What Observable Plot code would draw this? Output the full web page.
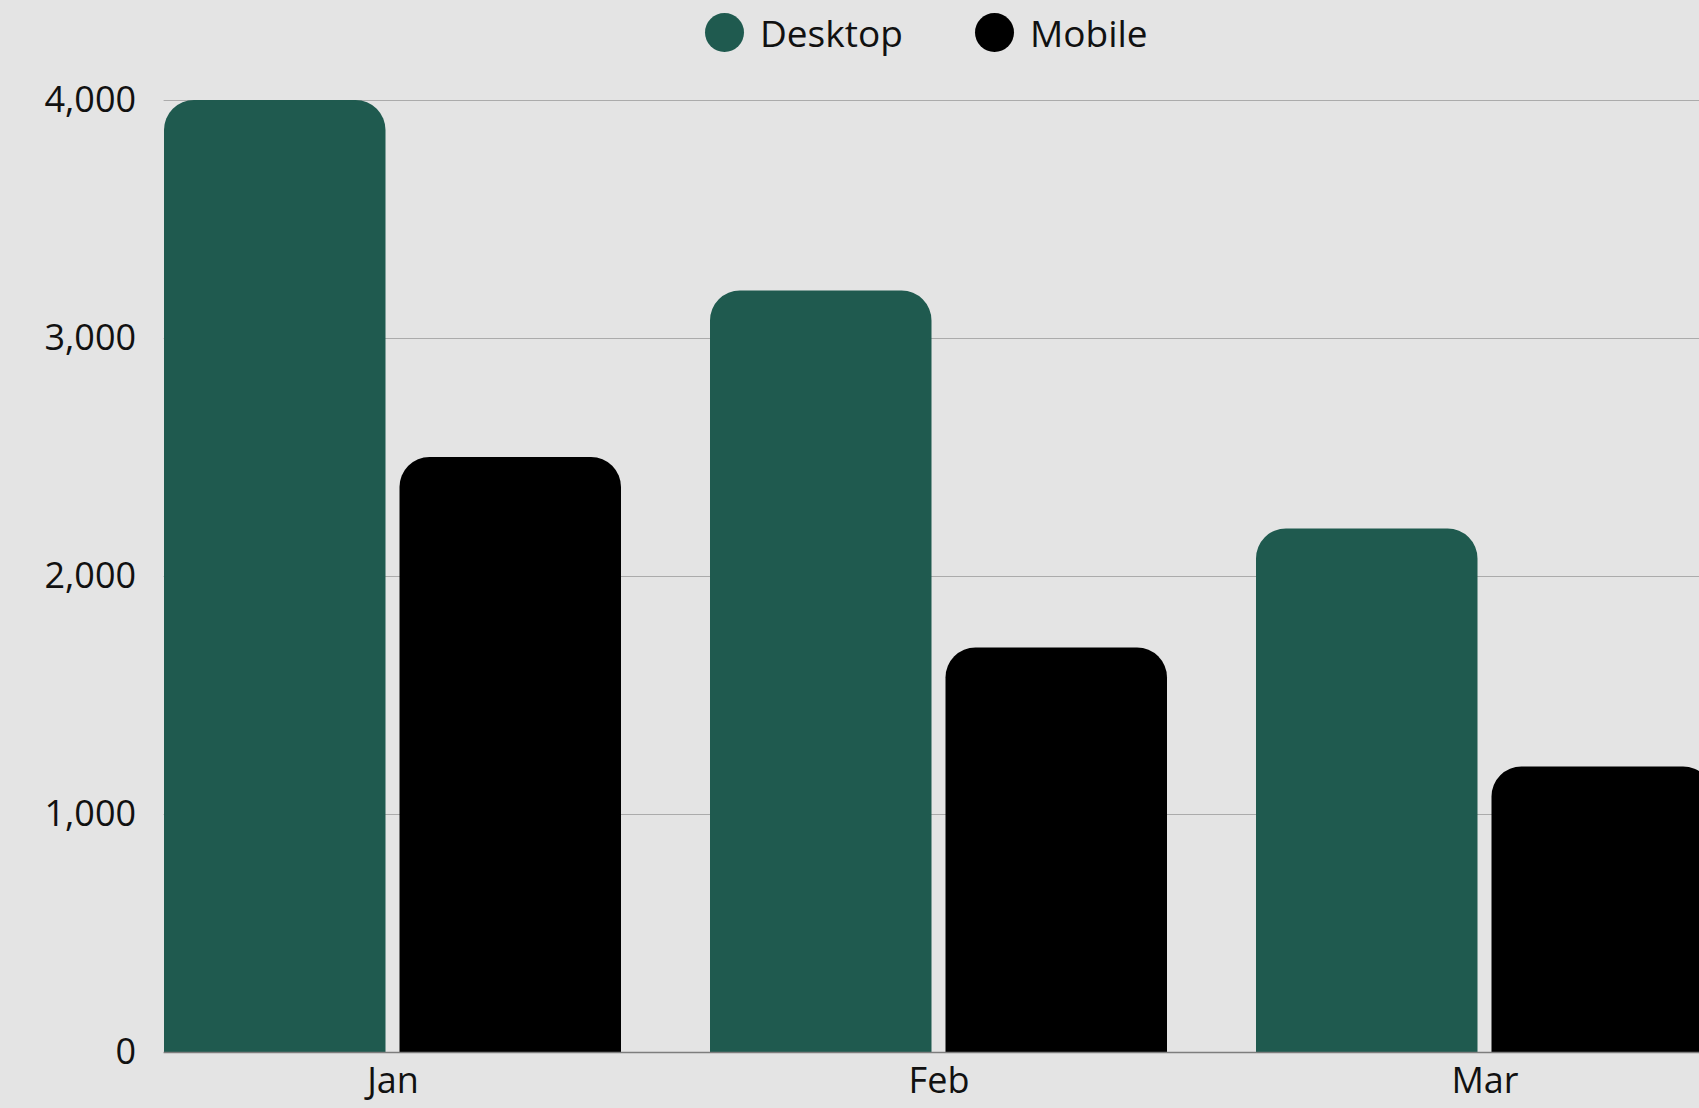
<!DOCTYPE html>
<html>
<head>
<meta charset="utf-8">
<script src="https://cdn.jsdelivr.net/npm/d3@7"></script>
<script src="https://cdn.jsdelivr.net/npm/@observablehq/plot@0.6"></script>
<style>
  html, body { margin: 0; padding: 0; background: #e4e4e4; overflow: hidden; }
  #legend { position: relative; height: 65px; font-family: "Open Sans", sans-serif; font-size: 37px; color: #111; }
  .item { position: absolute; top: 13px; display: flex; align-items: center; height: 39px; }
  .dot { width: 39px; height: 39px; border-radius: 50%; margin-right: 16px; }
</style>
</head>
<body>
<div id="legend"></div>
<div id="chart"></div>
<script>
const months = ["Jan", "Feb", "Mar"];
const desktop = [4000, 3200, 2200];
const mobile = [2500, 1700, 1200];
const series = ["Desktop", "Mobile"];
const colors = ["#1f5a4f", "#000000"];
const yTicks = [0, 1000, 2000, 3000, 4000];

const desktopRows = months.map((m, i) => ({month: m, series: "Desktop", value: desktop[i]}));
const mobileRows = months.map((m, i) => ({month: m, series: "Mobile", value: mobile[i]}));

// legend
const legend = document.getElementById("legend");
const lefts = [705, 975];
series.forEach((s, i) => {
  const it = document.createElement("div");
  it.className = "item";
  it.style.left = lefts[i] + "px";
  const dot = document.createElement("span");
  dot.className = "dot";
  dot.style.background = colors[i];
  const label = document.createElement("span");
  label.textContent = s;
  it.append(dot, label);
  legend.append(it);
});

const chart = Plot.plot({
  width: 1699,
  height: 1043,
  marginLeft: 163.6,
  marginRight: 0,
  marginTop: 35,
  marginBottom: 56,
  style: {background: "#e4e4e4", fontFamily: "Open Sans, sans-serif", fontSize: "36px", color: "#111", overflow: "hidden"},
  x: {domain: months, range: [163.6, 1714.3], paddingInner: 0.163, paddingOuter: 0, label: null, tickSize: 0, tickPadding: 15},
  y: {domain: [0, 4000], ticks: yTicks, tickFormat: d => d.toLocaleString("en-US"), tickSize: 0, tickPadding: 28, label: null},
  color: {domain: series, range: colors},
  marks: [
    Plot.ruleY(yTicks.slice(1), {stroke: "#ababab", strokeWidth: 1}),
    Plot.barY(desktopRows, {x: "month", y: "value", fill: "series", insetRight: 235.5, ry1: 30}),
    Plot.barY(mobileRows, {x: "month", y: "value", fill: "series", insetLeft: 235.5, ry1: 30}),
    Plot.ruleY([0], {stroke: "#7d7d7d", strokeWidth: 1.5})
  ]
});
document.getElementById("chart").append(chart);
</script>
</body>
</html>
